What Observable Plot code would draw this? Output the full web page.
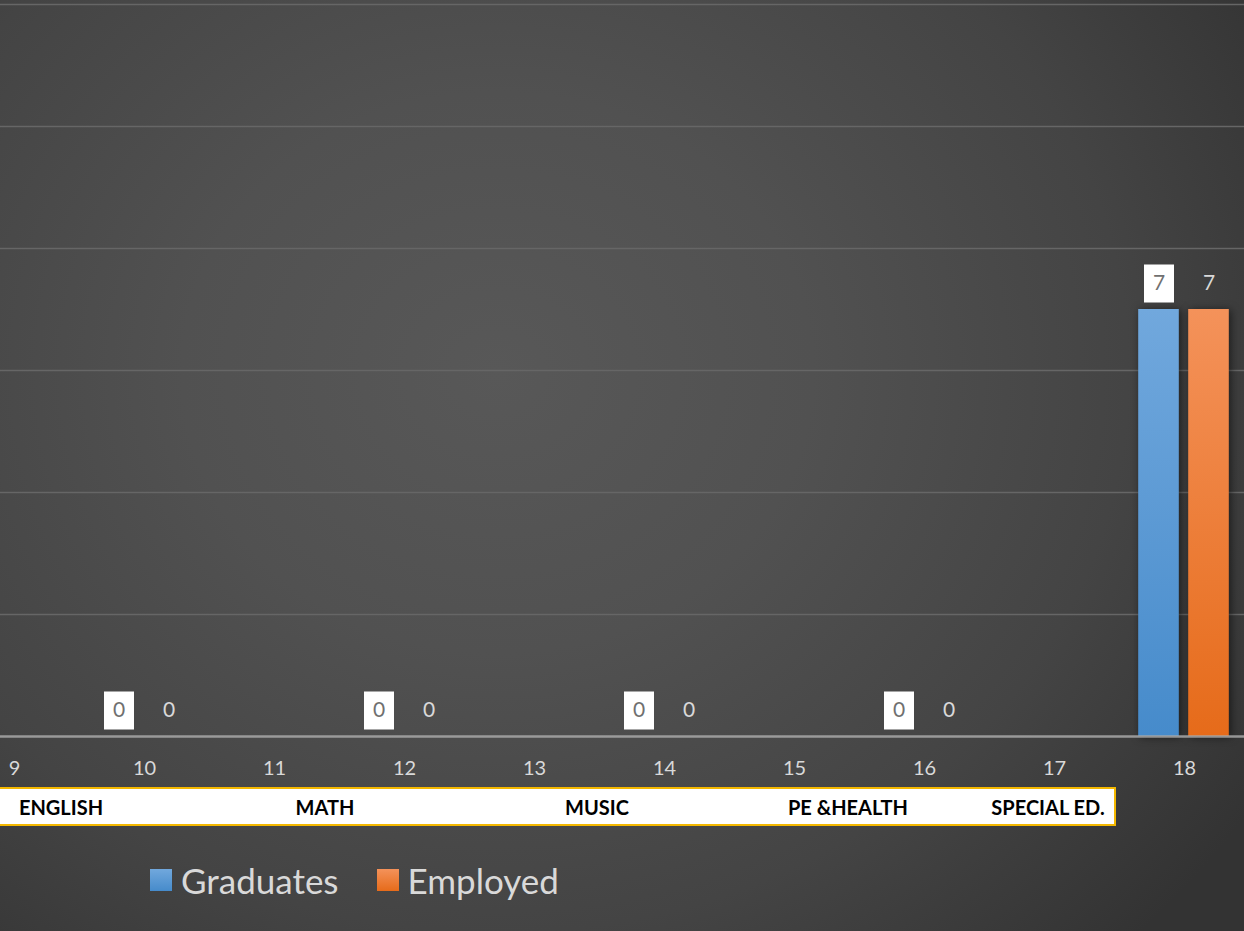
<!DOCTYPE html>
<html>
<head>
<meta charset="utf-8">
<script src="https://cdn.jsdelivr.net/npm/d3@7"></script>
<script src="https://cdn.jsdelivr.net/npm/@observablehq/plot@0.6"></script>
<style>
  html, body { margin: 0; padding: 0; }
  #wrap {
    position: relative; width: 1244px; height: 931px; overflow: hidden;
    background: radial-gradient(ellipse 900px 800px at 40% 40%, #585858 0%, #515151 35%, #444 70%, #333 100%);
    font-family: Lato, "Open Sans", sans-serif;
  }
  #chart { position: absolute; left: 0; top: 0; }
  #chart svg { background: transparent; overflow: visible; }
  g[fill="url(#gBlue)"] rect, g[fill="url(#gOrange)"] rect { filter: drop-shadow(2px 1px 4px rgba(0,0,0,0.55)); }
  #cats {
    position: absolute; left: 0; top: 787px; width: 1114px; height: 35px;
    background: #fff; border: 2px solid #f4b800; border-left: none;
  }
  #cats span {
    position: absolute; top: 50%; transform: translate(-50%, -50%);
    font-weight: 700; font-size: 20px; color: #000; white-space: nowrap;
  }
  #legend { position: absolute; left: 150px; top: 859px; display: flex; align-items: center; }
  #legend .item { display: flex; align-items: center; margin-right: 38px; }
  #legend .sw { width: 22px; height: 22px; margin-right: 9px; }
  #legend .lb { font-size: 35px; color: #d9d9d9; }
</style>
</head>
<body>
<div id="wrap">
  <div id="chart"></div>
  <div id="cats"></div>
  <div id="legend"></div>
</div>
<script>
// ---- data ----
const categories = [9, 10, 11, 12, 13, 14, 15, 16, 17, 18];
const graduates = [null, 0, null, 0, null, 0, null, 0, null, 7];
const employed  = [null, 0, null, 0, null, 0, null, 0, null, 7];
const seriesNames = ["Graduates", "Employed"];
const gridTicks = [0, 2, 4, 6, 8, 10, 12];
const subjectLabels = ["ENGLISH", "MATH", "MUSIC", "PE &HEALTH", "SPECIAL ED."];
const subjectLeft = [61, 325, 597, 848, 1048];

const gradRows = categories.map((c, i) => ({cat: c, value: graduates[i]})).filter(d => d.value != null);
const empRows  = categories.map((c, i) => ({cat: c, value: employed[i]})).filter(d => d.value != null);

const boxSymbol = { draw(ctx) { ctx.rect(-15, -19, 30, 38); } };

const defs = () => {
  const g = d3.create("svg:g");
  const d = g.append("defs");
  const mk = (id, top, bot) => {
    const lg = d.append("linearGradient").attr("id", id).attr("x1", 0).attr("y1", 0).attr("x2", 0).attr("y2", 1);
    lg.append("stop").attr("offset", "0%").attr("stop-color", top);
    lg.append("stop").attr("offset", "100%").attr("stop-color", bot);
  };
  mk("gBlue", "#71a8dd", "#468bcb");
  mk("gOrange", "#f4925a", "#e66b1a");
  return g.node();
};

const chart = Plot.plot({
  width: 1244,
  height: 790,
  marginTop: 4,
  marginBottom: 54,
  marginLeft: 0,
  marginRight: 0,
  style: { background: "transparent", fontFamily: "Lato, 'Open Sans', sans-serif" },
  x: { type: "band", domain: categories, range: [-53, 1250], padding: 0, label: null },
  y: { domain: [0, 12], axis: null },
  marks: [
    defs,
    Plot.ruleY(gridTicks.filter(t => t > 0), { stroke: "#666666", strokeWidth: 1.6 }),
    Plot.barY(gradRows, { x: "cat", y: "value", fill: "url(#gBlue)", insetLeft: 19.2, insetRight: 70.2 }),
    Plot.barY(empRows,  { x: "cat", y: "value", fill: "url(#gOrange)", insetLeft: 69.2, insetRight: 20.2 }),
    Plot.ruleY([0], { stroke: "#a8a8a8", strokeWidth: 2.5, strokeOpacity: 0.85 }),
    Plot.dot(gradRows, { x: "cat", y: "value", dx: -25.5, dy: -26, symbol: boxSymbol, fill: "#ffffff", stroke: "none", r: 10 }),
    Plot.text(gradRows, { x: "cat", y: "value", text: d => String(d.value), dx: -25.5, dy: -26, fill: "#707070", fontSize: 21 }),
    Plot.text(empRows,  { x: "cat", y: "value", text: d => String(d.value), dx: 24.5, dy: -26, fill: "#d9d9d9", fontSize: 21 }),
    Plot.axisX({ tickSize: 0, tickPadding: 24, fontSize: 20, fill: "#d9d9d9", label: null })
  ]
});
document.getElementById("chart").appendChild(chart);

// category box
const cats = document.getElementById("cats");
subjectLabels.forEach((s, i) => {
  const sp = document.createElement("span");
  sp.textContent = s;
  sp.style.left = subjectLeft[i] + "px";
  cats.appendChild(sp);
});

// legend
const legend = document.getElementById("legend");
seriesNames.forEach((n, i) => {
  const it = document.createElement("div");
  it.className = "item";
  const sw = document.createElement("div");
  sw.className = "sw";
  sw.style.background = i === 0 ? "linear-gradient(#71a8dd, #468bcb)" : "linear-gradient(#f4925a, #e66b1a)";
  const lb = document.createElement("div");
  lb.className = "lb";
  lb.textContent = n;
  it.appendChild(sw); it.appendChild(lb);
  legend.appendChild(it);
});
</script>
</body>
</html>
